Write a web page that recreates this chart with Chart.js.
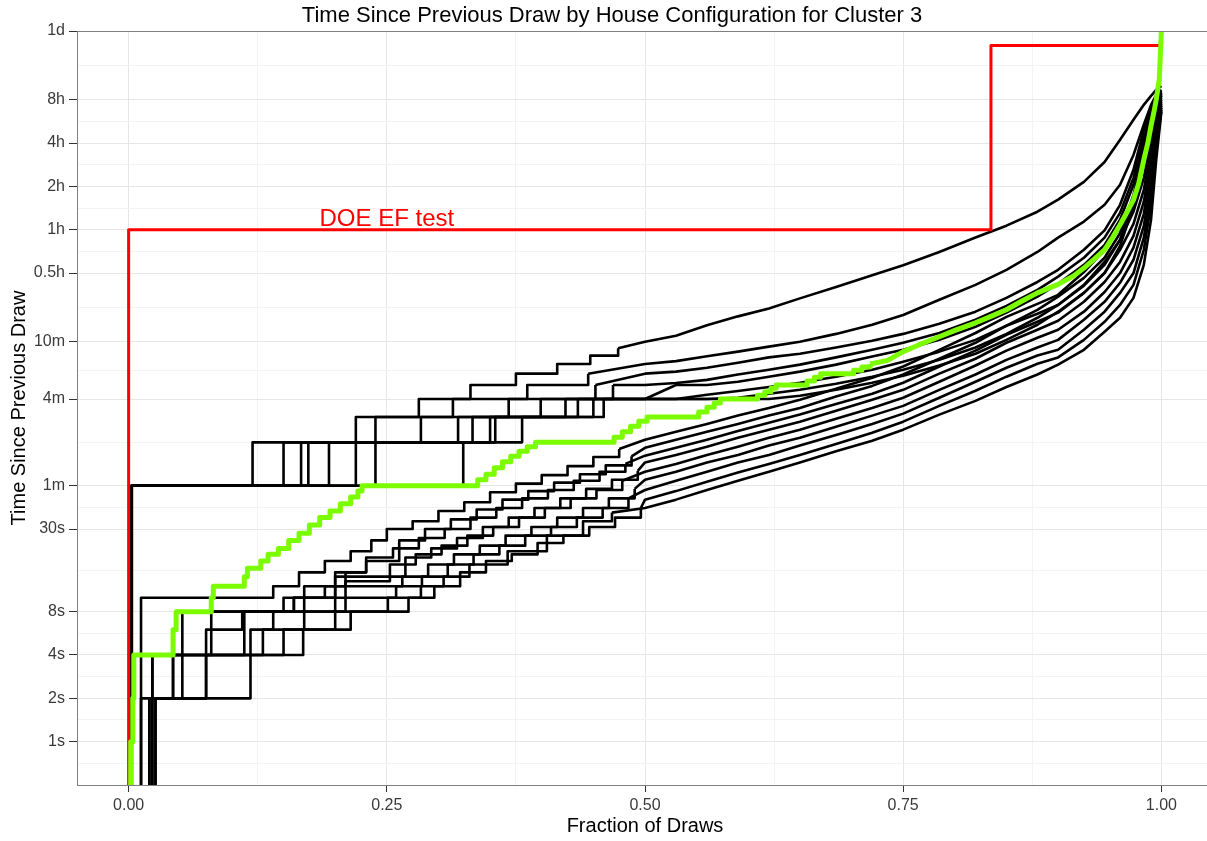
<!DOCTYPE html>
<html>
<head>
<meta charset="utf-8">
<title>Time Since Previous Draw by House Configuration for Cluster 3</title>
<script src="https://cdn.jsdelivr.net/npm/chart.js"></script>
<style>
  html, body { margin: 0; padding: 0; background: #fff; overflow: hidden; }
  canvas { display: block; }
</style>
</head>
<body>
<canvas id="myChart" width="1213" height="841"></canvas>
<script>
// axis ticks
const xTickValues = [0, 0.25, 0.5, 0.75, 1];
const xTickLabels = ["0.00", "0.25", "0.50", "0.75", "1.00"];
const yTickValues = [1, 2, 4, 8, 30, 60, 240, 600, 1800, 3600, 7200, 14400, 28800, 86400];
const yTickLabels = ["1s", "2s", "4s", "8s", "30s", "1m", "4m", "10m", "0.5h", "1h", "2h", "4h", "8h", "1d"];

const tailFractions = [0.50, 0.53, 0.56, 0.59, 0.62, 0.65, 0.685, 0.72, 0.75, 0.785, 0.82, 0.85, 0.88, 0.90, 0.925, 0.945, 0.96, 0.973, 0.983, 0.99, 0.995, 1.0];

// houses logged at one minute resolution: [fraction of draws, seconds] at each step
const houseM1Steps = [[0, 0.3], [0.003, 60], [0.120, 120], [0.220, 180], [0.281, 240], [0.331, 300], [0.375, 360], [0.415, 420], [0.447, 480], [0.474, 540]];
const houseM1Tail = [600, 660, 780, 900, 1020, 1200, 1440, 1740, 2040, 2520, 3180, 3840, 4800, 5820, 7740, 10620, 15180, 20880, 26520, 30600, 33720, 35880];
const houseM2Steps = [[0, 0.3], [0.003, 60], [0.150, 120], [0.239, 180], [0.314, 240], [0.386, 300], [0.445, 360]];
const houseM2Tail = [420, 440, 475, 512, 555, 600, 680, 787, 920, 1173, 1490, 1895, 2520, 3170, 4100, 5360, 7380, 11900, 19300, 26500, 31100, 33700];
const houseM3Steps = [[0, 0.3], [0.003, 60], [0.167, 120], [0.283, 180], [0.368, 240], [0.452, 300]];
const houseM3Tail = [360, 372, 396, 428, 467, 495, 547, 609, 680, 800, 970, 1210, 1560, 1895, 2610, 3560, 5360, 9380, 17800, 25300, 30100, 33200];
const houseM4Steps = [[0, 0.3], [0.003, 60], [0.174, 120], [0.319, 180], [0.399, 240], [0.469, 300]];
const houseM4Tail = [300, 310, 326, 355, 383, 416, 467, 527, 590, 690, 852, 1065, 1377, 1700, 2300, 3170, 4710, 8250, 15700, 23700, 28700, 32600];
const houseM5Steps = [[0, 0.3], [0.003, 60], [0.194, 120], [0.333, 180], [0.423, 240]];
const houseM5Tail = [240, 300, 300, 316, 343, 372, 416, 474, 527, 618, 762, 955, 1235, 1515, 2050, 2820, 4220, 7380, 13950, 22600, 27800, 32100];
const houseM6Steps = [[0, 0.3], [0.003, 60], [0.220, 120], [0.350, 180], [0.435, 240]];
const houseM6Tail = [240, 240, 257, 273, 291, 311, 343, 383, 436, 512, 618, 775, 1000, 1235, 1665, 2300, 3400, 6290, 12500, 20900, 26500, 31600];
const houseM7Steps = [[0, 0.3], [0.003, 60], [0.239, 120], [0.355, 180], [0.450, 240]];
const houseM7Tail = [240, 240, 240, 245, 261, 278, 306, 343, 383, 449, 547, 680, 880, 1080, 1470, 2050, 3060, 5800, 11350, 19900, 25700, 31100];
const houseM8Steps = [[0, 0.3], [0.003, 60], [0.324, 120], [0.381, 180], [0.460, 240]];
const houseM8Tail = [240, 240, 240, 240, 240, 253, 278, 311, 348, 410, 495, 618, 787, 970, 1310, 1800, 2780, 5280, 10500, 19000, 25300, 30600];

// houses logged at one second resolution
const houseS1Steps = [[0, 0.3], [0.012, 10], [0.14, 12], [0.165, 15], [0.19, 18], [0.215, 21], [0.235, 25], [0.25, 30], [0.275, 34], [0.30, 40], [0.325, 46], [0.35, 54], [0.375, 62], [0.40, 71], [0.425, 82], [0.45, 95], [0.475, 108]];
const houseS1Tail = [125, 142, 161, 184, 208, 237, 283, 337, 404, 527, 690, 892, 1100, 1270, 1830, 2610, 3710, 5800, 10150, 17800, 25300, 30600];
const houseS2Steps = [[0, 0.3], [0.020, 2], [0.043, 4], [0.052, 8], [0.16, 10], [0.19, 12], [0.21, 15], [0.23, 18], [0.262, 25], [0.287, 30], [0.312, 35], [0.337, 41], [0.362, 48], [0.387, 55], [0.412, 63], [0.437, 72], [0.462, 83], [0.487, 96]];
const houseS2Tail = [110, 125, 142, 161, 184, 208, 250, 296, 355, 457, 590, 775, 938, 1080, 1490, 2150, 3060, 4800, 8250, 15200, 23700, 29600];
const houseS3Steps = [[0, 0.3], [0.023, 4], [0.075, 6], [0.11, 8], [0.17, 12], [0.2, 15], [0.23, 19], [0.256, 22], [0.281, 26], [0.306, 30], [0.331, 36], [0.356, 42], [0.381, 49], [0.406, 56], [0.431, 65], [0.456, 75], [0.481, 85]];
const houseS3Tail = [97, 110, 125, 144, 164, 187, 222, 261, 311, 404, 520, 670, 825, 955, 1310, 1800, 2610, 3950, 6810, 12900, 21500, 28700];
const houseS4Steps = [[0, 0.3], [0.012, 2], [0.052, 4], [0.08, 8], [0.15, 10], [0.2, 14], [0.268, 19], [0.293, 22], [0.318, 26], [0.343, 31], [0.368, 36], [0.393, 42], [0.418, 49], [0.443, 57], [0.468, 66], [0.493, 76]];
const houseS4Tail = [87, 98, 112, 129, 147, 167, 199, 237, 278, 360, 457, 590, 726, 839, 1136, 1560, 2150, 3260, 5630, 11000, 19600, 27800];
const houseS5Steps = [[0, 0.3], [0.02, 2], [0.075, 4], [0.112, 8], [0.16, 10], [0.21, 13], [0.253, 17], [0.278, 20], [0.303, 23], [0.328, 27], [0.353, 31], [0.378, 36], [0.403, 42], [0.428, 49], [0.453, 56], [0.478, 65]];
const houseS5Tail = [75, 85, 98, 112, 129, 147, 175, 208, 245, 316, 410, 520, 640, 726, 970, 1330, 1800, 2700, 4640, 9380, 17800, 26900];
const houseS6Steps = [[0, 0.3], [0.023, 4], [0.118, 6], [0.14, 8], [0.2, 12], [0.265, 14], [0.29, 17], [0.315, 20], [0.34, 23], [0.365, 27], [0.39, 31], [0.415, 36], [0.44, 42], [0.465, 49], [0.49, 57]];
const houseS6Tail = [66, 75, 87, 98, 114, 129, 154, 184, 215, 278, 355, 449, 547, 618, 852, 1136, 1540, 2225, 3820, 7750, 15700, 26100];
const houseS7Steps = [[0, 0.3], [0.026, 2], [0.043, 4], [0.13, 6], [0.17, 8], [0.21, 10], [0.259, 12], [0.284, 14], [0.309, 17], [0.334, 20], [0.359, 23], [0.384, 27], [0.409, 31], [0.434, 36], [0.459, 42], [0.484, 49]];
const houseS7Tail = [56, 65, 75, 87, 98, 114, 135, 161, 190, 245, 316, 396, 481, 527, 726, 970, 1310, 1800, 3170, 6380, 13800, 25300];
const houseS8Steps = [[0, 0.3], [0.020, 2], [0.075, 4], [0.15, 6], [0.2, 8], [0.271, 10], [0.296, 12], [0.321, 15], [0.346, 18], [0.371, 20], [0.396, 24], [0.421, 27], [0.446, 31], [0.471, 36], [0.496, 42]];
const houseS8Tail = [48, 55, 64, 74, 85, 98, 117, 140, 167, 215, 274, 343, 422, 467, 618, 825, 1080, 1490, 2610, 5360, 12500, 24500];
const houseS9Steps = [[0, 0.3], [0.026, 2], [0.118, 4], [0.169, 6], [0.215, 8], [0.251, 10], [0.283, 12], [0.305, 14], [0.33, 17], [0.367, 21], [0.405, 27], [0.44, 34], [0.468, 39]];
const houseS9Tail = [42, 48, 56, 65, 75, 87, 104, 123, 147, 187, 233, 291, 355, 416, 527, 704, 880, 1210, 2050, 4220, 11000, 23700];

// highlighted house (green): stepped start, then the dense upper part
const highlightSteps = [[0, 0.3], [0.002, 1], [0.004, 2], [0.005, 4], [0.043, 6], [0.046, 8], [0.080, 10], [0.082, 12], [0.112, 14], [0.115, 16],
  [0.128, 18], [0.135, 20], [0.145, 22], [0.155, 25], [0.165, 28], [0.175, 32], [0.185, 36], [0.195, 40], [0.205, 45], [0.215, 50], [0.222, 55], [0.226, 60],
  [0.338, 66], [0.346, 72], [0.354, 80], [0.362, 88], [0.370, 96], [0.378, 104], [0.386, 112], [0.394, 120],
  [0.470, 130], [0.478, 142], [0.486, 155], [0.494, 168], [0.502, 180],
  [0.552, 195], [0.560, 210], [0.567, 225], [0.573, 240],
  [0.609, 255], [0.616, 270], [0.622, 285], [0.627, 300],
  [0.657, 320], [0.664, 340], [0.670, 360],
  [0.702, 380], [0.710, 400], [0.718, 420]];
const highlightTail = [[0.718, 420], [0.735, 445], [0.75, 512], [0.765, 570], [0.785, 650], [0.80, 720], [0.82, 812], [0.835, 900], [0.85, 1000], [0.865, 1150], [0.88, 1310],
  [0.90, 1500], [0.915, 1720], [0.925, 1950], [0.935, 2250], [0.945, 2610], [0.953, 3200], [0.96, 3900], [0.967, 4800], [0.973, 5800],
  [0.978, 7500], [0.983, 11000], [0.987, 14500], [0.99, 19000], [0.993, 24000], [0.995, 28700], [0.998, 40000], [1.0, 86400]];

// DOE EF test draw pattern (red)
const doeSteps = [[0, 0.3], [0, 3600], [0.835, 68400], [1.0, 68400]];
const doeLabel = "DOE EF test";

const houses = [
  [houseM1Steps, houseM1Tail], [houseM2Steps, houseM2Tail], [houseM3Steps, houseM3Tail], [houseM4Steps, houseM4Tail],
  [houseM5Steps, houseM5Tail], [houseM6Steps, houseM6Tail], [houseM7Steps, houseM7Tail], [houseM8Steps, houseM8Tail],
  [houseS1Steps, houseS1Tail], [houseS2Steps, houseS2Tail], [houseS3Steps, houseS3Tail], [houseS4Steps, houseS4Tail],
  [houseS5Steps, houseS5Tail], [houseS6Steps, houseS6Tail], [houseS7Steps, houseS7Tail], [houseS8Steps, houseS8Tail],
  [houseS9Steps, houseS9Tail]
];

function toPoints(steps) {
  return steps.map(p => ({ x: p[0], y: p[1] }));
}
function tailPoints(tail) {
  return tail.map((s, i) => ({ x: tailFractions[i], y: s }));
}

// minor grid sits half way (in log space) between major ticks
const yMinor = [Math.sqrt(0.5)];
for (let i = 0; i < yTickValues.length - 1; i++) yMinor.push(Math.sqrt(yTickValues[i] * yTickValues[i + 1]));
const yGrid = yTickValues.concat(yMinor).sort((a, b) => a - b);
const xGrid = [0, 0.125, 0.25, 0.375, 0.5, 0.625, 0.75, 0.875, 1];

const majorGrid = "#e6e6e6";
const minorGrid = "#f3f3f3";
const tickMark = "#333333";

// the coarse start of each house is drawn as steps; the upper part has steps
// too small to see, so it is drawn as a plain line from the last step onwards
const datasets = [];
houses.forEach(h => {
  const head = toPoints(h[0]);
  const tail = [head[head.length - 1]].concat(tailPoints(h[1]));
  datasets.push({ data: head, borderColor: "#000000", borderWidth: 2.6, stepped: true, order: 2 });
  datasets.push({ data: tail, borderColor: "#000000", borderWidth: 2.6, stepped: false, order: 2 });
});
datasets.push({ data: toPoints(doeSteps), borderColor: "#ff0000", borderWidth: 3, stepped: true, order: 1 });
datasets.push({ data: toPoints(highlightSteps), borderColor: "#7cfc00", borderWidth: 5, stepped: true, order: 0 });
datasets.push({ data: toPoints(highlightTail), borderColor: "#7cfc00", borderWidth: 5, stepped: false, order: 0 });

Chart.defaults.font.family = "'Liberation Sans', Arial, sans-serif";

// panel border, chart title and the DOE label
const decorations = {
  id: "decorations",
  afterDatasetsDraw(chart) {
    const { ctx, chartArea, scales } = chart;
    ctx.save();
    ctx.strokeStyle = "#808080";
    ctx.lineWidth = 1;
    ctx.strokeRect(chartArea.left + 0.5, chartArea.top + 0.5, chartArea.right - chartArea.left, chartArea.bottom - chartArea.top);
    ctx.fillStyle = "#ff0000";
    ctx.font = "24px 'Liberation Sans', Arial, sans-serif";
    ctx.textAlign = "center";
    ctx.textBaseline = "alphabetic";
    ctx.fillText(doeLabel, scales.x.getPixelForValue(0.25), scales.y.getPixelForValue(3600) - 4);
    ctx.fillStyle = "#000000";
    ctx.font = "22px 'Liberation Sans', Arial, sans-serif";
    ctx.textBaseline = "middle";
    ctx.fillText("Time Since Previous Draw by House Configuration for Cluster 3", 612, 16);
    ctx.restore();
  }
};

new Chart(document.getElementById("myChart"), {
  type: "line",
  data: { datasets: datasets },
  options: {
    responsive: false,
    devicePixelRatio: 1,
    animation: false,
    layout: { padding: { top: 31, right: 0, bottom: 0, left: 0 } },
    elements: {
      point: { radius: 0 },
      line: { fill: false, tension: 0, borderJoinStyle: "round" }
    },
    plugins: { legend: { display: false }, tooltip: { enabled: false } },
    scales: {
      x: {
        type: "linear",
        min: -0.05,
        max: 1.05,
        afterFit: (s) => { s.height = 56; },
        afterBuildTicks: (axis) => { axis.ticks = xGrid.map(v => ({ value: v })); },
        border: { display: false },
        grid: {
          color: (c) => (c.tick && xTickValues.includes(c.tick.value)) ? majorGrid : minorGrid,
          tickColor: (c) => (c.tick && xTickValues.includes(c.tick.value)) ? tickMark : "rgba(0,0,0,0)",
          tickLength: 7
        },
        ticks: {
          autoSkip: false,
          maxRotation: 0,
          padding: 4,
          color: "#3a3a3a",
          font: { size: 16 },
          callback: (v) => { const i = xTickValues.indexOf(v); return i >= 0 ? xTickLabels[i] : ""; }
        },
        title: { display: true, text: "Fraction of Draws", color: "#000", font: { size: 20 }, padding: { top: 0, bottom: 3 } }
      },
      y: {
        type: "logarithmic",
        min: 0.5,
        max: 86400,
        afterFit: (s) => { s.width = 77; },
        afterBuildTicks: (axis) => { axis.ticks = yGrid.map(v => ({ value: v })); },
        border: { display: false },
        grid: {
          color: (c) => (c.tick && yTickValues.includes(c.tick.value)) ? majorGrid : minorGrid,
          tickColor: (c) => (c.tick && yTickValues.includes(c.tick.value)) ? tickMark : "rgba(0,0,0,0)",
          tickLength: 8
        },
        ticks: {
          autoSkip: false,
          padding: 4,
          color: "#3a3a3a",
          font: { size: 16 },
          callback: (v) => { const i = yTickValues.indexOf(v); return i >= 0 ? yTickLabels[i] : ""; }
        },
        title: { display: true, text: "Time Since Previous Draw", color: "#000", font: { size: 20 }, padding: { top: 7, bottom: 0 } }
      }
    }
  },
  plugins: [decorations]
});
</script>
</body>
</html>
